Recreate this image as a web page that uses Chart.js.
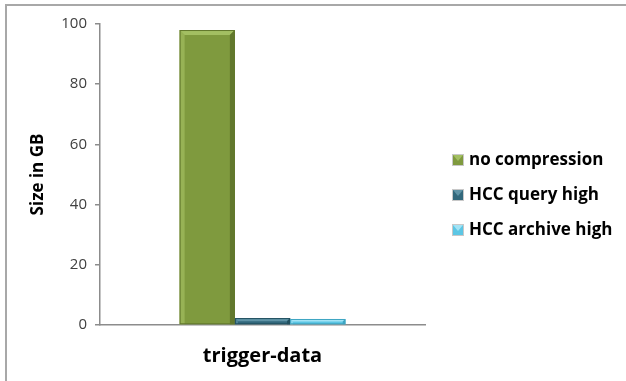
<!DOCTYPE html>
<html>
<head>
<meta charset="utf-8">
<script src="https://cdn.jsdelivr.net/npm/chart.js@4/dist/chart.umd.min.js"></script>
<style>
  html, body { margin: 0; padding: 0; background: #ffffff; }
  #wrap { position: relative; width: 626px; height: 381px; overflow: hidden; }
  #frame { position: absolute; left: 5px; top: 4px; width: 640px; height: 400px;
           border-left: 2px solid #a8a8a8; border-top: 2px solid #a8a8a8; }
  canvas { position: absolute; left: 0; top: 0; }
</style>
</head>
<body>
<div id="wrap">
  <div id="frame"></div>
  <canvas id="c" width="626" height="381"></canvas>
</div>
<script>
// Table sizes per storage option
const categories = ['trigger-data'];
const seriesNames = ['no compression', 'HCC query high', 'HCC archive high'];
const noCompression = [98];
const hccQueryHigh = [2.3];
const hccArchiveHigh = [2];
const yTicks = [0, 20, 40, 60, 80, 100];

const fills = ['#7f9a3e', '#32687c', '#5cc6e4'];
const lights = ['#a3bf62', '#5f93a6', '#a3e3f5'];
const darks = ['#62782d', '#22505f', '#3ea5c2'];

const FONT = '"Open Sans", Lato, sans-serif';

function shade(ctx, pts, color) {
  ctx.beginPath();
  ctx.moveTo(pts[0][0], pts[0][1]);
  for (let i = 1; i < pts.length; i++) ctx.lineTo(pts[i][0], pts[i][1]);
  ctx.closePath();
  ctx.fillStyle = color;
  ctx.fill();
}

// Bevelled edges on each bar, using the bar geometry from the chart
const bevel = {
  id: 'bevel',
  afterDatasetsDraw(chart) {
    const ctx = chart.ctx;
    chart.data.datasets.forEach((ds, di) => {
      const meta = chart.getDatasetMeta(di);
      meta.data.forEach(bar => {
        const p = bar.getProps(['x', 'y', 'base', 'width'], true);
        const l = p.x - p.width / 2, r = p.x + p.width / 2;
        const t = Math.min(p.y, p.base), b = Math.max(p.y, p.base);
        const s = Math.min(5, (b - t) / 2);
        ctx.save();
        shade(ctx, [[l, t], [r, t], [r - s, t + s], [l + s, t + s]], lights[di]);
        shade(ctx, [[l, t], [l + s, t + s], [l + s, b], [l, b]], lights[di] + 'aa');
        shade(ctx, [[r, t], [r - s, t + s], [r - s, b], [r, b]], darks[di]);
        ctx.strokeStyle = darks[di];
        ctx.lineWidth = 1;
        ctx.strokeRect(l + 0.5, t + 0.5, p.width - 1, b - t - 1);
        ctx.restore();
      });
    });
  }
};

// Legend on the right with small bevelled markers
const sideLegend = {
  id: 'sideLegend',
  afterDraw(chart) {
    const ctx = chart.ctx;
    const x0 = 453, rows = [160, 195, 230], box = 10;
    chart.data.datasets.forEach((ds, i) => {
      const y = rows[i];
      ctx.save();
      ctx.fillStyle = ds.backgroundColor;
      ctx.fillRect(x0, y - box / 2, box, box);
      shade(ctx, [[x0, y - box / 2], [x0 + box, y - box / 2], [x0 + box / 2, y + 1]], lights[i]);
      ctx.strokeStyle = '#c8c8c8';
      ctx.lineWidth = 1;
      ctx.strokeRect(x0 - 0.5, y - box / 2 - 0.5, box + 1, box + 1);
      ctx.fillStyle = '#000000';
      ctx.font = 'bold 17px ' + FONT;
      ctx.textBaseline = 'middle';
      ctx.textAlign = 'left';
      ctx.fillText(ds.label, 469, y);
      ctx.restore();
    });
  }
};

const seriesValues = [noCompression, hccQueryHigh, hccArchiveHigh];

new Chart(document.getElementById('c'), {
  type: 'bar',
  data: {
    labels: categories,
    datasets: seriesNames.map((name, i) => ({
      label: name,
      data: seriesValues[i],
      backgroundColor: fills[i],
      borderWidth: 0,
      barPercentage: 1,
      categoryPercentage: 0.51
    }))
  },
  plugins: [bevel, sideLegend],
  options: {
    responsive: false,
    animation: false,
    devicePixelRatio: 1,
    layout: { padding: { left: 0, top: 24, right: 201, bottom: 0 } },
    plugins: { legend: { display: false }, tooltip: { enabled: false } },
    scales: {
      x: {
        grid: { drawOnChartArea: false, drawTicks: false },
        border: { display: true, color: '#8c8c8c', width: 1.5 },
        ticks: { color: '#000000', font: { family: FONT, size: 20, weight: 'bold' }, padding: 19 },
        afterFit(scale) { scale.height = 56; }
      },
      y: {
        min: 0, max: 100,
        afterBuildTicks(scale) { scale.ticks = yTicks.map(v => ({ value: v })); },
        grid: { drawOnChartArea: false, drawTicks: true, tickLength: 5, color: '#8c8c8c', lineWidth: 1.5 },
        border: { display: true, color: '#8c8c8c', width: 1.5 },
        ticks: { color: '#404040', font: { family: FONT, size: 15 }, padding: 8 },
        title: { display: true, text: 'Size in GB', color: '#000000',
                 font: { family: FONT, size: 17, weight: 'bold' }, padding: { top: 28, bottom: 0 } },
        afterFit(scale) { scale.width = 100; }
      }
    }
  }
});
</script>
</body>
</html>
